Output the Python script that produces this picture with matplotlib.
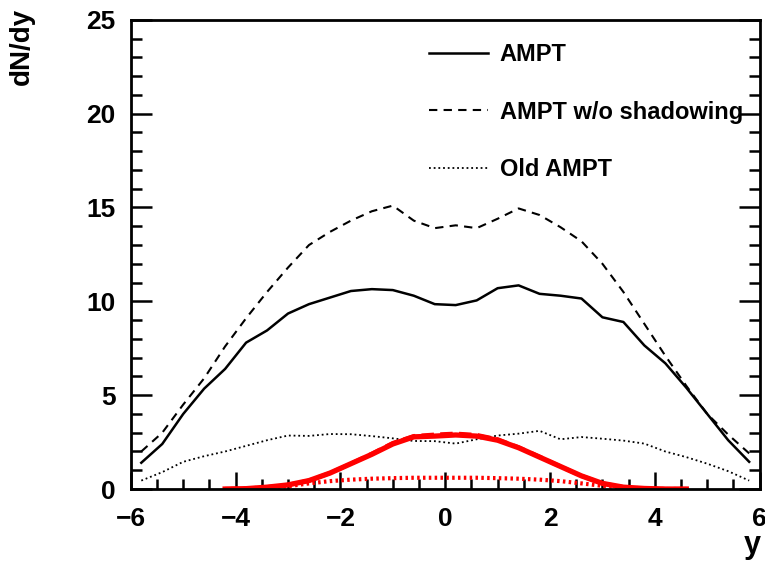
import numpy as np
import matplotlib
matplotlib.use('Agg')
import matplotlib.pyplot as plt
from matplotlib.ticker import MultipleLocator

plt.rcParams['font.family'] = ['Liberation Sans', 'DejaVu Sans']
plt.rcParams['font.weight'] = 'bold'

# rapidity bin centres of the AMPT curves
y_full = [-5.8, -5.4, -5.0, -4.6, -4.2, -3.8, -3.4, -3.0, -2.6, -2.2,
          -1.8, -1.4, -1.0, -0.6, -0.2, 0.2, 0.6, 1.0, 1.4, 1.8,
          2.2, 2.6, 3.0, 3.4, 3.8, 4.2, 4.6, 5.0, 5.4, 5.8]
ampt = [1.4, 2.4, 4.0, 5.35, 6.4, 7.8, 8.45, 9.35, 9.85, 10.2,
        10.55, 10.65, 10.6, 10.3, 9.85, 9.8, 10.05, 10.7, 10.85, 10.4,
        10.3, 10.15, 9.15, 8.9, 7.65, 6.7, 5.4, 4.0, 2.6, 1.45]
ampt_noshadow = [2.0, 3.0, 4.5, 5.9, 7.6, 9.1, 10.5, 11.8, 13.0, 13.7,
                 14.3, 14.8, 15.1, 14.3, 13.9, 14.05, 13.9, 14.4, 14.95, 14.6,
                 13.95, 13.2, 12.0, 10.5, 8.8, 7.1, 5.5, 4.0, 2.9, 1.9]
old_ampt = [0.45, 0.9, 1.45, 1.75, 2.0, 2.3, 2.6, 2.85, 2.83, 2.93,
            2.92, 2.82, 2.7, 2.56, 2.55, 2.42, 2.65, 2.85, 2.95, 3.1,
            2.65, 2.77, 2.68, 2.58, 2.42, 2.0, 1.7, 1.35, 0.95, 0.45]

# red curves
y_red = [-4.2, -3.8, -3.4, -3.0, -2.6, -2.2, -1.8, -1.4, -1.0, -0.6,
         -0.2, 0.2, 0.6, 1.0, 1.4, 1.8, 2.2, 2.6, 3.0, 3.4,
         3.8, 4.2, 4.6]
red_solid = [0.0, 0.02, 0.1, 0.22, 0.45, 0.85, 1.35, 1.85, 2.4, 2.78,
             2.82, 2.88, 2.82, 2.6, 2.2, 1.7, 1.2, 0.7, 0.3, 0.1,
             0.03, 0.0, 0.0]
red_dashed = [0.0, 0.02, 0.1, 0.22, 0.45, 0.85, 1.35, 1.88, 2.45, 2.82,
              2.9, 2.95, 2.88, 2.65, 2.22, 1.72, 1.2, 0.7, 0.3, 0.1,
              0.03, 0.0, 0.0]
red_dotted = [0.0, 0.01, 0.05, 0.15, 0.3, 0.42, 0.5, 0.55, 0.58, 0.6,
              0.6, 0.6, 0.6, 0.58, 0.55, 0.5, 0.42, 0.3, 0.17, 0.07,
              0.02, 0.0, 0.0]

fig = plt.figure(figsize=(7.65, 5.66), dpi=100)
ax = fig.add_axes([0.171, 0.136, 0.822, 0.829])

ax.plot(y_full, ampt, color='black', lw=1.8, label='AMPT')
ax.plot(y_full, ampt_noshadow, color='black', lw=1.5, ls=(0, (4, 3)),
        label='AMPT w/o shadowing')
ax.plot(y_full, old_ampt, color='black', lw=1.3, ls=(0, (1, 1.6)),
        label='Old AMPT')

ax.plot(y_red, red_dotted, color='red', lw=3, ls=(0, (0.6, 0.8)))
ax.plot(y_red, red_dashed, color='red', lw=3, ls=(0, (3, 1.5)))
ax.plot(y_red, red_solid, color='red', lw=3.8)

ax.set_xlim(-6, 6)
ax.set_ylim(0, 25)
ax.xaxis.set_major_locator(MultipleLocator(2))
ax.xaxis.set_minor_locator(MultipleLocator(0.5))
ax.yaxis.set_major_locator(MultipleLocator(5))
ax.yaxis.set_minor_locator(MultipleLocator(1))
ax.tick_params(which='both', direction='in', right=True, top=False,
               width=1.8, labelsize=19)
ax.tick_params(axis='y', pad=11)
ax.tick_params(axis='x', pad=13)
ax.tick_params(which='major', axis='y', length=15)
ax.tick_params(which='minor', axis='y', length=8)
ax.tick_params(which='major', axis='x', length=12)
ax.tick_params(which='minor', axis='x', length=7)
for lab in ax.get_xticklabels() + ax.get_yticklabels():
    lab.set_fontweight('bold')
for s in ax.spines.values():
    s.set_linewidth(2)

leg = ax.legend(loc='upper left', bbox_to_anchor=(0.44, 0.995), frameon=False,
                handlelength=2.5, handletextpad=0.5,
                labelspacing=1.45, prop={'weight': 'bold', 'size': 17})

fig.text(22 / 765, 1 - 8 / 566, 'dN/dy', rotation=90, ha='center', va='top',
         fontsize=20, fontweight='bold')
fig.text(752 / 765, 6 / 566, 'y', ha='center', va='bottom',
         fontsize=22, fontweight='bold')

fig.savefig('out.png', dpi=100)
